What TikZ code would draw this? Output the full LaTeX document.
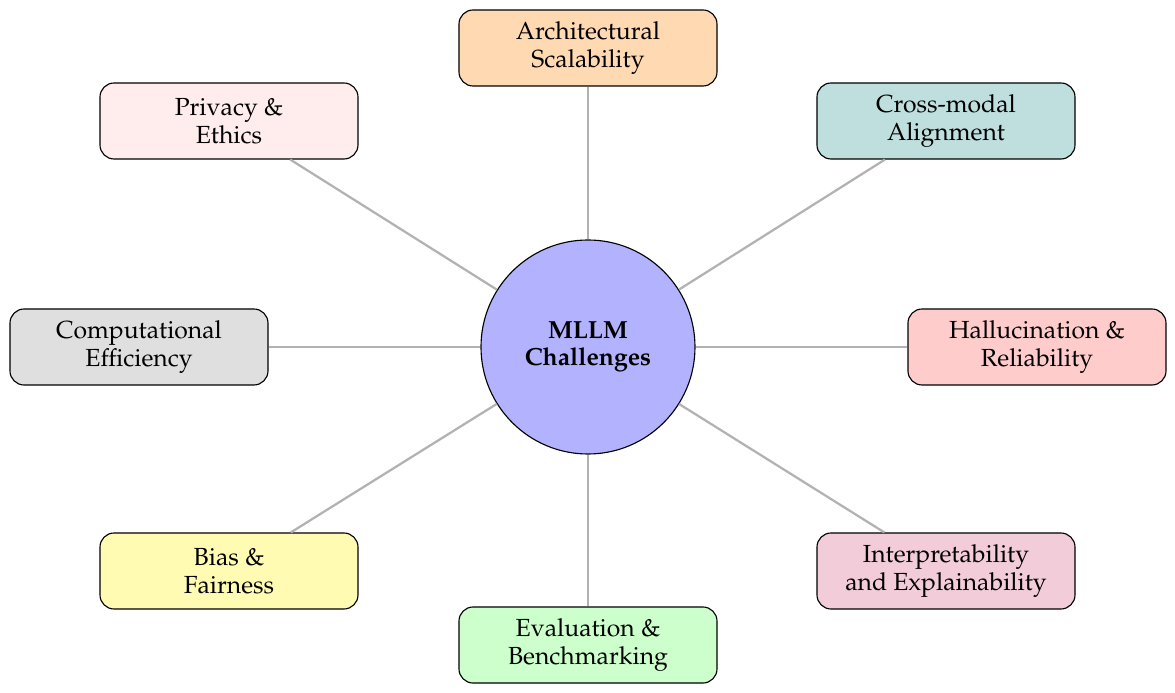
\documentclass[tikz,border=0pt]{standalone}
\usepackage[T1]{fontenc}
\usepackage{mathpazo}
\usetikzlibrary{positioning}
\begin{document}
\begin{tikzpicture}[
  topic/.style={rectangle,rounded corners=5pt,draw=black,thin,minimum width=3.225cm,minimum height=0.95cm,align=center,inner sep=2pt,font=\fontsize{8.8}{9.8}\selectfont},
  hub/.style={circle,draw=black,thin,fill=blue!30,minimum size=2.675cm,align=center,font=\fontsize{8.8}{9.8}\selectfont\bfseries},
  spoke/.style={draw=black!30,thick}]
% \draw[help lines] (-7,-4) grid (7,4);
\useasboundingbox (-7.35,-4.325) rectangle (7.3375,4.3375);
\node (mllm) [hub] at (0,0) {MLLM\\Challenges};
%
\node (arch) [topic,fill=orange!30] at (0,3.7375) {Architectural\\Scalability};
\node (cross) [topic,fill=teal!25] at (4.475,2.825) {Cross-modal\\Alignment};
\node (hall) [topic,fill=red!20] at (5.6125,0) {Hallucination \&\\Reliability};
\node (interp) [topic,fill=purple!20] at (4.475,-2.8) {Interpretability\\and Explainability};
\node (eval) [topic,fill=green!20] at (0,-3.725) {Evaluation \&\\Benchmarking};
\node (bias) [topic,fill=yellow!30] at (-4.4875,-2.8) {Bias \&\\Fairness};
\node (comp) [topic,fill=gray!25] at (-5.6125,0) {Computational\\Efficiency};
\node (priv) [topic,fill=pink!30] at (-4.4875,2.825) {Privacy \&\\Ethics};
%
\foreach \t in {arch,cross,hall,interp,eval,bias,comp,priv}
  \path[spoke] (mllm) -- (\t);
\end{tikzpicture}
\end{document}
